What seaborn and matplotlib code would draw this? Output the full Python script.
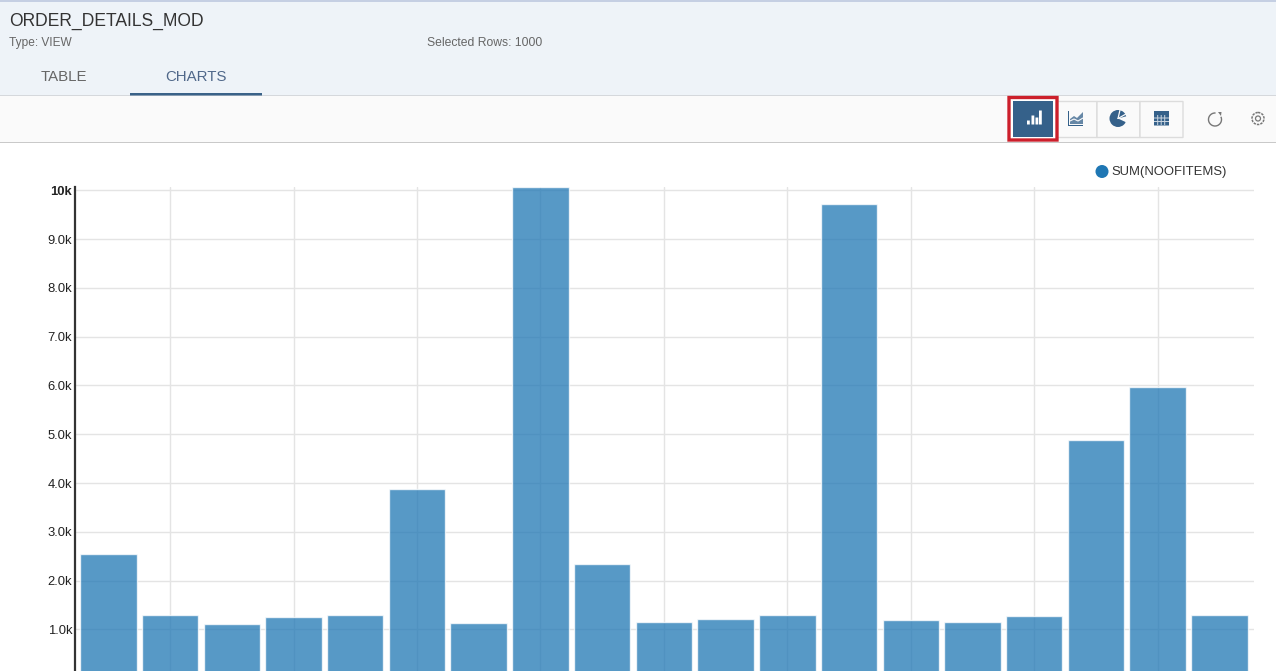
import matplotlib
matplotlib.use("Agg")
import matplotlib.pyplot as plt
from matplotlib.patches import Rectangle, Wedge, Circle, Arc, Polygon
import pandas as pd
import seaborn as sns

# category names sit below the crop of the screenshot, so only the order is known
categories = [str(i) for i in range(1, 20)]
noofitems = [2535, 1285, 1105, 1245, 1285, 3885, 1125, 10060, 2335, 1145,
             1205, 1285, 9725, 1185, 1145, 1265, 4885, 5975, 1285]
y_ticks = [1000, 2000, 3000, 4000, 5000, 6000, 7000, 8000, 9000, 10000]
y_labels = ["1.0k", "2.0k", "3.0k", "4.0k", "5.0k", "6.0k", "7.0k", "8.0k", "9.0k", "10k"]
series_name = "SUM(NOOFITEMS)"

W, H = 1276, 671
sns.set_theme(style="white")
plt.rcParams["font.family"] = ["Liberation Sans", "DejaVu Sans"]

df = pd.DataFrame({"category": categories, "value": noofitems})

fig = plt.figure(figsize=(W / 100, H / 100), dpi=100, facecolor="white")

# chart area, bottom runs off the screenshot
left, right, top = 75, 1254, 187
ax = fig.add_axes([left / W, 0, (right - left) / W, (H - top) / H])
sns.barplot(data=df, x="category", y="value", color="#1f77b4", saturation=1,
            alpha=0.75, width=0.915, ax=ax, zorder=3)
ax.set_xlim(-0.54, 18.56)
ax.set_ylim(145, 10070)
ax.set_xlabel("")
ax.set_ylabel("")
ax.set_xticks(range(1, 19, 2))
ax.set_xticklabels([])
ax.set_yticks(y_ticks)
ax.set_yticklabels(y_labels, fontsize=9.4, color="#222222")
ax.get_yticklabels()[-1].set_fontweight("bold")
ax.tick_params(axis="y", length=0, pad=2)
ax.tick_params(axis="x", length=0)
ax.grid(True, color="#e4e4e4", linewidth=1)
ax.set_axisbelow(True)
for side in ["top", "right", "bottom"]:
    ax.spines[side].set_visible(False)
ax.spines["left"].set_color("#333333")
ax.spines["left"].set_linewidth(1.6)

# page furniture in pixel coordinates
ui = fig.add_axes([0, 0, 1, 1], zorder=5)
ui.set_xlim(0, W)
ui.set_ylim(H, 0)
ui.axis("off")
ui.patch.set_alpha(0)


def box(x, y, w, h, color, **kw):
    p = Rectangle((x, y), w, h, facecolor=color, edgecolor=kw.pop("edge", "none"), **kw)
    p.set_snap(False)
    ui.add_patch(p)


box(0, 0, W, 96, "#eef3f8")
box(0, 0, W, 2, "#c5cfe3")
box(0, 96, W, 46, "#fafafa")
box(0, 95, W, 1, "#d5d8dc")
box(0, 142, W, 1, "#c9c9c9")
box(130, 93, 132, 2.5, "#3a6288")

ui.text(9, 21, "ORDER_DETAILS_MOD", fontsize=12.65, color="#333333", va="center")
ui.text(9, 43, "Type: VIEW", fontsize=8.6, color="#666666", va="center")
ui.text(427, 43, "Selected Rows: 1000", fontsize=8.75, color="#666666", va="center")
ui.text(63.5, 77, "TABLE", fontsize=10.8, color="#666666", va="center", ha="center")
ui.text(196, 77, "CHARTS", fontsize=10.8, color="#50688a", va="center", ha="center")

# toolbar buttons
icon = "#35618a"
for x0, w0 in [(1056, 41), (1097, 43), (1140, 43)]:
    box(x0, 101.5, w0, 36, "#fafafa", edge="#dcdcdc", linewidth=1)
box(1009, 97.5, 48, 42.5, "#ffffff", edge="#cc1f2b", linewidth=2.4)
box(1013, 101, 40, 36, "#35618a")
for bx, bh in [(1027, 4), (1031.5, 9), (1035.5, 7), (1039, 14)]:
    box(bx, 124.5 - bh, 2.8, bh, "#ffffff")

# area chart icon
box(1068, 111, 1, 15, icon)
box(1068, 125, 15, 1, icon)
ui.add_patch(Polygon([(1070, 124), (1070, 119), (1074, 116), (1077, 118), (1083, 112), (1083, 124)],
                     facecolor=icon, alpha=0.75, edgecolor="none"))
ui.plot([1070, 1074, 1078, 1083], [121, 119, 121, 118], color="#fafafa", lw=0.8)

# pie icon, angles run clockwise because the y axis is flipped
ui.add_patch(Circle((1118, 118.5), 8.5, facecolor=icon, edgecolor="none"))
ui.add_patch(Wedge((1118, 118.5), 9.5, -15, 25, facecolor="#fafafa", edgecolor="none"))
ui.plot([1118, 1120], [118.5, 110], color="#fafafa", lw=0.9)
ui.plot([1118, 1126], [118.5, 114], color="#fafafa", lw=0.9)

# table icon
box(1154, 111, 15, 14.5, icon)
for gx in [1157.2, 1160.7, 1164.2]:
    box(gx, 115, 1, 10, "#c9d4df")
for gy in [117.5, 121]:
    box(1154, gy, 15, 1, "#c9d4df")

# refresh and settings icons
ui.add_patch(Arc((1215, 119.5), 13, 13, theta1=-25, theta2=275, color="#777777", lw=1))
ui.add_patch(Polygon([(1218, 112), (1221.5, 112), (1221, 116)], facecolor="#777777", edgecolor="none"))
ui.add_patch(Circle((1258, 118.5), 2.5, facecolor="none", edgecolor="#777777", lw=0.9))
ui.add_patch(Circle((1258, 118.5), 6, facecolor="none", edgecolor="#777777", lw=1.1, linestyle=(0, (1.6, 0.7))))

# legend
ui.add_patch(Circle((1102, 171.5), 6.5, facecolor="#1f77b4", edgecolor="none"))
ui.text(1111, 171.5, series_name, fontsize=9.4, color="#333333", va="center")

fig.savefig("out.png", dpi=100)
